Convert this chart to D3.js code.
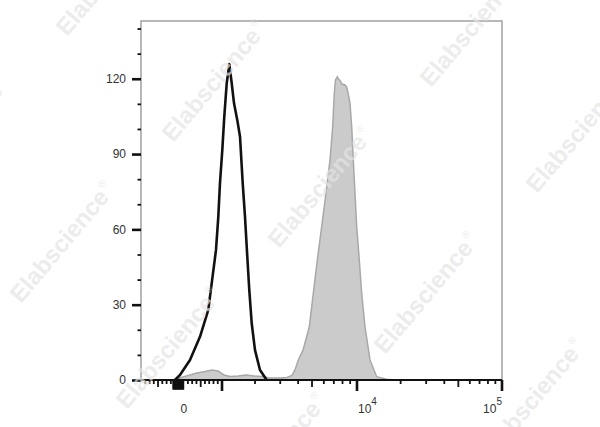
<!DOCTYPE html>
<html><head><meta charset="utf-8">
<script src="https://cdn.jsdelivr.net/npm/d3@7"></script>
<style>
html,body{margin:0;padding:0;background:#fff;}
svg{display:block;font-family:"Liberation Sans",Arial,sans-serif;}
</style></head>
<body>
<svg id="chart" width="600" height="427"></svg>
<script>
// ---- data (fluorescence intensity, event count) ----
const controlValues = [-103, 14, 249, 483, 678, 758, 859, 913, 952, 1006, 1049, 1104, 1166, 1226, 1287, 1379, 1460, 1545, 1621, 1701, 1774, 1866, 2000, 2167, 2414];
const controlCounts = [0, 2.0, 8.0, 17.2, 27.9, 38.5, 51.8, 65.0, 78.3, 91.6, 104.9, 118.2, 125.8, 118.2, 110.2, 103.5, 96.9, 78.3, 65.0, 49.1, 35.8, 22.6, 11.9, 4.0, 0];

const sampleValues = [-174, -56, 84, 249, 413, 601, 765, 905, 1043, 1183, 1399, 1656, 1958, 2238, 2545, 2991, 3345, 3625, 3804, 4013, 4328, 4787, 5101, 5426, 5806, 6203, 6598, 6877, 7049, 7181, 7382, 7520, 7696, 7937, 8314, 8534, 8774, 8979, 9217, 9447, 9698, 9954, 10373, 10776, 11357, 12292, 13673, 16027, 18578];
const sampleCounts = [0, 0.4, 1.2, 2.0, 2.8, 3.4, 4.0, 3.6, 2.0, 1.4, 1.6, 2.0, 1.6, 1.4, 0.8, 0.8, 1.0, 1.8, 4.0, 8.0, 11.9, 21.2, 34.5, 47.8, 61.1, 74.4, 87.6, 100.9, 114.2, 119.5, 120.8, 119.9, 119.3, 117.9, 117.5, 116.7, 113.5, 110.2, 100.9, 87.6, 74.4, 61.1, 47.8, 34.5, 21.2, 8.0, 1.3, 0.3, 0];

const yMajorTicks = [0, 30, 60, 90, 120];
const yMinorTicks = [10, 20, 40, 50, 70, 80, 100, 110, 130, 140];
const xMajorTicks = [1000, 10000, 100000];
const xMediumTicks = [-500, 500, 5000, 50000];
const xMinorTicks = [-800, -700, -600, -400, -300, -200, 200, 300, 400, 600, 700, 800, 900,
  2000, 3000, 4000, 6000, 7000, 8000, 9000, 20000, 30000, 40000, 60000, 70000, 80000, 90000];
const xZeroBlock = d3.range(-150, 110, 10);
const xLabelValues = [0, 10000, 100000];
const xLabelBases = ["0", "10", "10"];
const xLabelExps = ["", "4", "5"];
const watermarkText = "Elabscience";

// ---- layout ----
const W = 600, H = 427;
const m = {top: 21, right: 98, bottom: 47, left: 141};
const iw = W - m.left - m.right, ih = H - m.top - m.bottom;

const svg = d3.select("#chart");
const g = svg.append("g");

// biexponential-like display scale: linear around zero, logarithmic above 10^3
const xLin = d3.scaleLinear().domain([-900, 1000]).range([m.left, m.left + iw * 0.2244]);
const xLog = d3.scaleLog().domain([1000, 2000, 5000, 10000, 100000])
  .range([m.left + iw * 0.2244, m.left + iw * 0.3158, m.left + iw * 0.4737, m.left + iw * 0.5983, m.left + iw]);
const x = v => v <= 1000 ? xLin(v) : xLog(v);
const y = d3.scaleLinear().domain([0, 143]).range([m.top + ih, m.top]);

const control = controlValues.map((v, i) => ({v, c: controlCounts[i]}));
const sample = sampleValues.map((v, i) => ({v, c: sampleCounts[i]}));

// frame
g.append("rect").attr("x", m.left).attr("y", m.top).attr("width", iw).attr("height", ih)
  .attr("fill", "none").attr("stroke", "#9a9a9a").attr("stroke-width", 1.4);

// sample (filled)
g.append("path").datum(sample)
  .attr("d", d3.area().x(d => x(d.v)).y0(y(0)).y1(d => y(d.c)))
  .attr("fill", "#cbcbcb").attr("stroke", "#a8a8a8").attr("stroke-width", 1.5);

// control (outline)
g.append("path").datum(control)
  .attr("d", d3.line().x(d => x(d.v)).y(d => y(d.c)))
  .attr("fill", "none").attr("stroke", "#111").attr("stroke-width", 2.6).attr("stroke-linejoin", "round");

// y axis
const yAxisMajor = d3.axisLeft(y).tickValues(yMajorTicks).tickSize(9).tickPadding(6);
const yAxisMinor = d3.axisLeft(y).tickValues(yMinorTicks).tickSize(3.5).tickFormat("");
const ya = g.append("g").attr("transform", `translate(${m.left},0)`).call(yAxisMajor);
const yb = g.append("g").attr("transform", `translate(${m.left},0)`).call(yAxisMinor);
[ya, yb].forEach(a => { a.select(".domain").remove(); });
ya.selectAll("line").attr("stroke", "#111").attr("stroke-width", 2.6);
yb.selectAll("line").attr("stroke", "#111").attr("stroke-width", 1.8);
ya.selectAll("text").attr("fill", "#333").attr("font-size", 12).attr("font-family", "Liberation Sans, Arial, sans-serif");

// x axis line
const y0 = y(0);
g.append("line").attr("x1", m.left).attr("x2", m.left + iw).attr("y1", y0).attr("y2", y0)
  .attr("stroke", "#111").attr("stroke-width", 2.2);

function xTicks(vals, len, sw) {
  g.append("g").selectAll("line").data(vals).join("line")
    .attr("x1", d => x(d)).attr("x2", d => x(d))
    .attr("y1", y0).attr("y2", y0 + len)
    .attr("stroke", "#111").attr("stroke-width", sw);
}
xTicks(xMinorTicks, 4, 1.8);
xTicks(xMediumTicks, 7, 1.8);
xTicks(xMajorTicks, 11, 2.6);
xTicks(xZeroBlock, 9.5, 1.2);

// x labels
const anchors = ["middle", "start", "end"];
const offs = [4.5, 1, 0];
const xl = g.append("g").attr("font-size", 12).attr("fill", "#333");
xLabelValues.forEach((v, i) => {
  const t = xl.append("text").attr("x", x(v) + offs[i]).attr("y", y0 + 33)
    .attr("text-anchor", anchors[i]);
  t.append("tspan").text(xLabelBases[i]);
  if (xLabelExps[i]) t.append("tspan").attr("dy", -8).attr("font-size", 10).text(xLabelExps[i]);
});

// watermark (tiled)
const wm = svg.append("g").attr("fill", "#e4e4e4").attr("fill-opacity", 0.7)
  .attr("font-size", 24).attr("font-weight", "bold");
for (let i = -3; i <= 4; i++) {
  for (let j = -2; j <= 3; j++) {
    const px = 173 + 106 * i + 258 * j, py = 143 + 106 * i - 55 * j;
    if (px < -220 || px > 640 || py < -40 || py > 620) continue;
    const t = wm.append("text").attr("transform", `translate(${px},${py}) rotate(-50)`);
    t.append("tspan").text(watermarkText);
    t.append("tspan").attr("font-size", 10).attr("font-weight", "normal").attr("dy", -12).attr("dx", 2).text("®");
  }
}
</script>
</body></html>
